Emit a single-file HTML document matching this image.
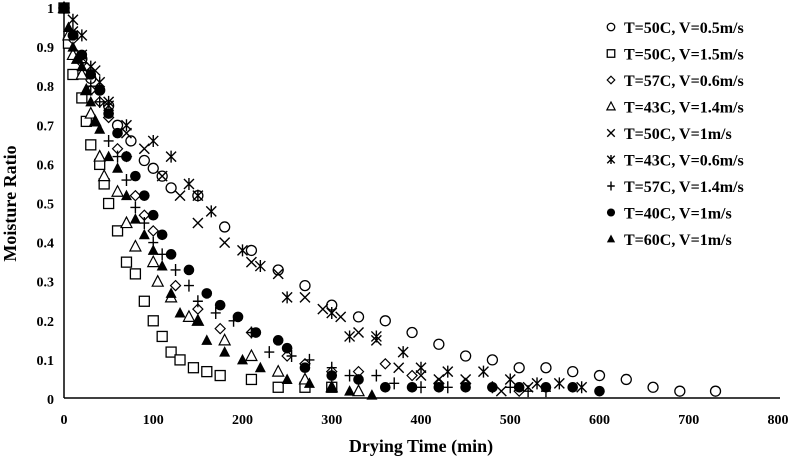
<!DOCTYPE html>
<html><head><meta charset="utf-8"><style>
body{margin:0;background:#fff}
svg text{font-family:"Liberation Serif",serif;font-weight:bold;fill:#000}
</style></head><body>
<svg id="chart" width="794" height="461"></svg>
<script>
const xTicks=[0,100,200,300,400,500,600,700,800];
const yTicks=[0,0.1,0.2,0.3,0.4,0.5,0.6,0.7,0.8,0.9,1];
const seriesNames=["T=50C, V=0.5m/s","T=50C, V=1.5m/s","T=57C, V=0.6m/s","T=43C, V=1.4m/s","T=50C, V=1m/s","T=43C, V=0.6m/s","T=57C, V=1.4m/s","T=40C, V=1m/s","T=60C, V=1m/s"];
const seriesMarkers=["circle","square","diamond","triangle","x","asterisk","plus","dot","filltri"];
const s0=[[0,1],[10,0.93],[20,0.87],[30,0.82],[40,0.79],[50,0.75],[60,0.70],[75,0.66],[90,0.61],[100,0.59],[110,0.57],[120,0.54],[150,0.52],[180,0.44],[210,0.38],[240,0.33],[270,0.29],[300,0.24],[330,0.21],[360,0.20],[390,0.17],[420,0.14],[450,0.11],[480,0.10],[510,0.08],[540,0.08],[570,0.07],[600,0.06],[630,0.05],[660,0.03],[690,0.02],[730,0.02]];
const s1=[[0,1],[5,0.91],[10,0.83],[20,0.77],[25,0.71],[30,0.65],[40,0.60],[45,0.55],[50,0.50],[60,0.43],[70,0.35],[80,0.32],[90,0.25],[100,0.20],[110,0.16],[120,0.12],[130,0.10],[145,0.08],[160,0.07],[175,0.06],[210,0.05],[240,0.03],[270,0.03],[300,0.03]];
const s2=[[0,1],[10,0.92],[20,0.86],[30,0.79],[40,0.76],[50,0.72],[60,0.64],[70,0.62],[80,0.52],[90,0.47],[100,0.43],[125,0.29],[150,0.23],[175,0.18],[210,0.17],[250,0.11],[270,0.09],[300,0.07],[330,0.07],[360,0.09],[390,0.06],[420,0.04],[450,0.04],[510,0.02]];
const s3=[[0,1],[5,0.93],[10,0.88],[15,0.87],[20,0.83],[25,0.79],[30,0.73],[35,0.71],[40,0.62],[45,0.57],[60,0.53],[70,0.45],[80,0.39],[100,0.35],[105,0.30],[120,0.26],[140,0.21],[150,0.20],[180,0.15],[210,0.11],[240,0.07],[270,0.05],[300,0.03],[330,0.02]];
const s4=[[0,1],[10,0.94],[20,0.88],[35,0.84],[50,0.75],[70,0.68],[90,0.64],[110,0.57],[130,0.52],[150,0.45],[180,0.40],[210,0.35],[240,0.32],[270,0.26],[290,0.23],[310,0.21],[330,0.17],[350,0.15],[375,0.08],[400,0.06],[420,0.05],[450,0.05],[490,0.02],[520,0.03]];
const s5=[[0,1],[10,0.97],[20,0.93],[30,0.85],[40,0.81],[50,0.76],[70,0.70],[100,0.66],[120,0.62],[140,0.55],[150,0.52],[165,0.48],[200,0.38],[220,0.34],[250,0.26],[300,0.22],[320,0.16],[350,0.16],[380,0.12],[400,0.08],[430,0.07],[470,0.07],[500,0.05],[530,0.04],[555,0.04],[580,0.03]];
const s6=[[0,1],[10,0.94],[20,0.86],[30,0.80],[40,0.76],[50,0.66],[60,0.62],[70,0.56],[80,0.49],[90,0.45],[100,0.40],[110,0.37],[125,0.33],[140,0.29],[150,0.25],[170,0.22],[190,0.20],[210,0.17],[230,0.12],[255,0.11],[275,0.10],[300,0.08],[320,0.06],[350,0.06],[370,0.04],[400,0.03],[430,0.03],[480,0.03],[500,0.03],[520,0.02],[540,0.02]];
const s7=[[0,1],[10,0.93],[20,0.88],[30,0.83],[40,0.79],[50,0.73],[60,0.68],[70,0.62],[80,0.57],[90,0.52],[100,0.47],[110,0.42],[120,0.37],[140,0.33],[160,0.27],[175,0.24],[195,0.21],[215,0.17],[240,0.15],[250,0.13],[270,0.08],[300,0.06],[330,0.05],[360,0.03],[390,0.03],[420,0.03],[450,0.03],[480,0.03],[510,0.03],[540,0.03],[570,0.03],[600,0.02]];
const s8=[[0,1],[5,0.95],[10,0.90],[15,0.87],[20,0.85],[25,0.79],[30,0.76],[35,0.71],[40,0.69],[50,0.62],[60,0.59],[70,0.52],[80,0.46],[90,0.42],[100,0.38],[110,0.34],[120,0.27],[130,0.22],[150,0.20],[160,0.15],[180,0.12],[200,0.10],[220,0.08],[250,0.05],[275,0.04],[300,0.03],[320,0.02],[345,0.01]];
const allSeries=[s0,s1,s2,s3,s4,s5,s6,s7,s8];

const NS="http://www.w3.org/2000/svg";
const svg=document.getElementById("chart");
const X0=64,X1=778,Y0=399,Y1=8;
const xs=v=>X0+(v/800)*(X1-X0);
const ys=v=>Y0-v*(Y0-Y1);
function mk(tag,attrs,parent){const e=document.createElementNS(NS,tag);for(const k in attrs)e.setAttribute(k,attrs[k]);(parent||svg).appendChild(e);return e;}
function marker(type,cx,cy,g,s){
  s=s||1;const r=5*s;
  if(type==="circle")return mk("circle",{cx,cy,r,fill:"#fff",stroke:"#000","stroke-width":1.3},g);
  if(type==="dot")return mk("circle",{cx,cy,r:r+0.3,fill:"#000"},g);
  if(type==="square")return mk("rect",{x:cx-r,y:cy-r,width:2*r,height:2*r,fill:"#fff",stroke:"#000","stroke-width":1.3},g);
  if(type==="diamond")return mk("path",{d:`M${cx} ${cy-r}L${cx+r} ${cy}L${cx} ${cy+r}L${cx-r} ${cy}Z`,fill:"#fff",stroke:"#000","stroke-width":1.2},g);
  if(type==="triangle")return mk("path",{d:`M${cx} ${cy-1.2*r}L${cx+1.1*r} ${cy+0.9*r}L${cx-1.1*r} ${cy+0.9*r}Z`,fill:"#fff",stroke:"#000","stroke-width":1.2},g);
  if(type==="filltri")return mk("path",{d:`M${cx} ${cy-1.2*r}L${cx+1.1*r} ${cy+0.9*r}L${cx-1.1*r} ${cy+0.9*r}Z`,fill:"#000"},g);
  if(type==="x")return mk("path",{d:`M${cx-r} ${cy-r}L${cx+r} ${cy+r}M${cx+r} ${cy-r}L${cx-r} ${cy+r}`,stroke:"#000","stroke-width":1.4},g);
  if(type==="plus")return mk("path",{d:`M${cx-r} ${cy}L${cx+r} ${cy}M${cx} ${cy-1.2*r}L${cx} ${cy+1.2*r}`,stroke:"#000","stroke-width":1.4},g);
  if(type==="asterisk")return mk("path",{d:`M${cx-r} ${cy-r}L${cx+r} ${cy+r}M${cx+r} ${cy-r}L${cx-r} ${cy+r}M${cx} ${cy-1.2*r}L${cx} ${cy+1.2*r}`,stroke:"#000","stroke-width":1.4},g);
}
const ax=mk("line",{x1:X0,y1:Y1,x2:X0,y2:Y0-1,stroke:"#000","stroke-width":1.5});


const bx=mk("line",{x1:X0,y1:Y0-1,x2:X1+2,y2:Y0-1,stroke:"#000","stroke-width":1.5});


xTicks.forEach(t=>{const e=mk("text",{x:xs(t),y:Y0+25,"text-anchor":"middle","font-size":14});e.textContent=t;

});
yTicks.forEach(t=>{const e=mk("text",{x:54,y:ys(t)+5,"text-anchor":"end","font-size":14});e.textContent=String(+t.toFixed(1));

});
const xt=mk("text",{x:(X0+X1)/2,y:452,"text-anchor":"middle","font-size":18});xt.textContent="Drying Time (min)";


const yt=mk("text",{x:0,y:0,"text-anchor":"middle","font-size":18,transform:`translate(16,${(Y0+Y1)/2}) rotate(-90)`});yt.textContent="Moisture Ratio";


allSeries.forEach((s,i)=>{
  const g=mk("g",{});
  
  
  s.forEach(p=>{const m=marker(seriesMarkers[i],xs(p[0]),ys(p[1]),g);
    
    });
});
seriesNames.forEach((n,i)=>{
  const g=mk("g",{});
  
  
  const cy=27+i*26.5;
  marker(seriesMarkers[i],611,cy,g,0.75);
  const t=mk("text",{x:624,y:cy+6,"font-size":16},g);t.textContent=n;
});
</script>
</body></html>
